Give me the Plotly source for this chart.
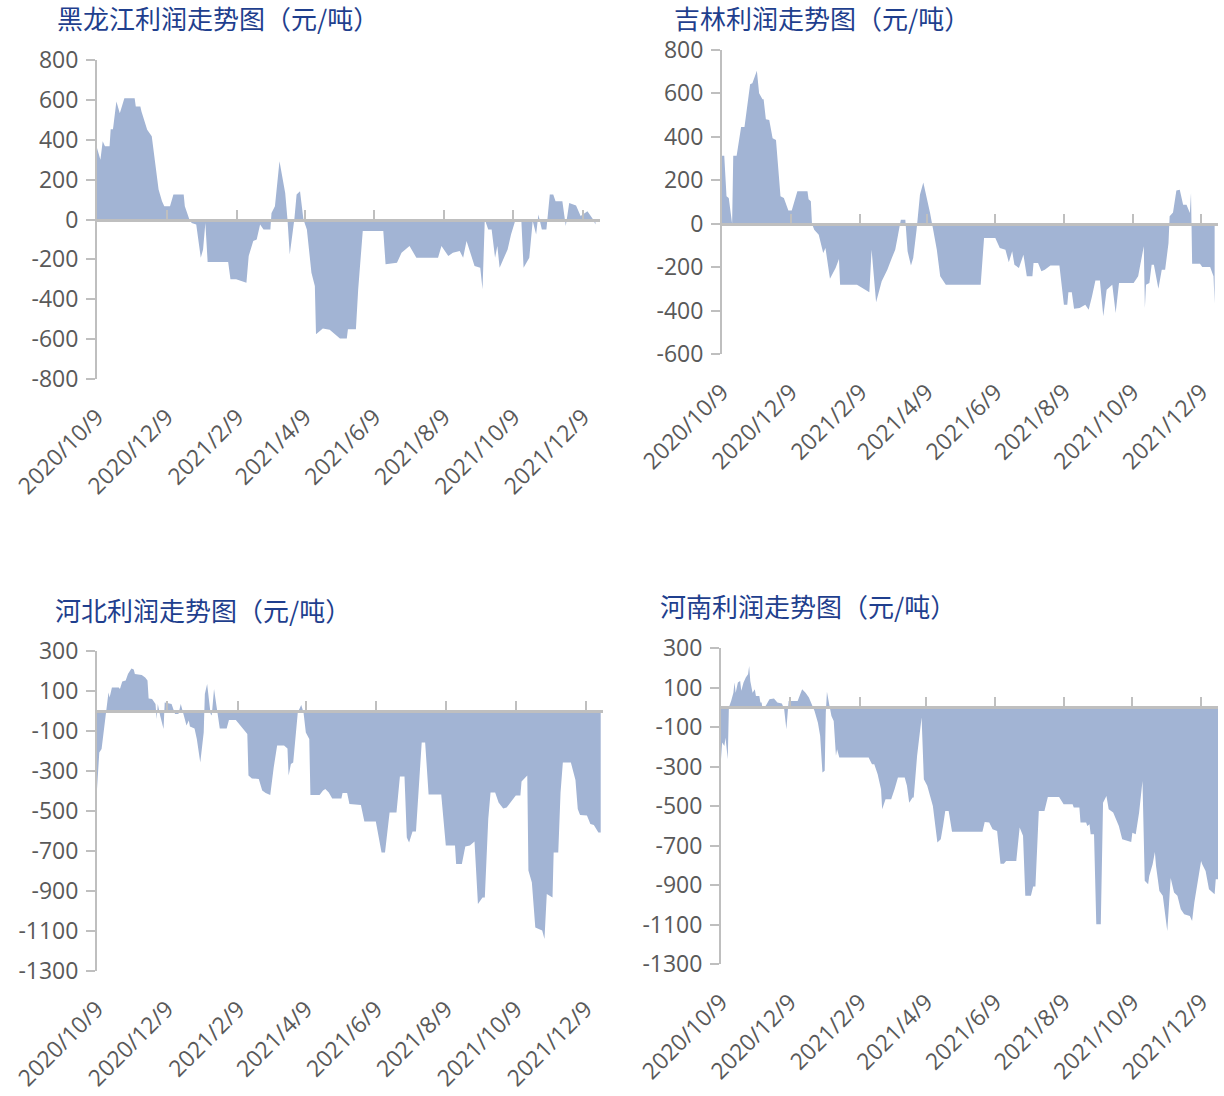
import pandas as pd
import plotly.graph_objects as go

START = "2020-10-09"
END = "2021-12-24"

tick_dates = ["2020-10-09", "2020-12-09", "2021-02-09", "2021-04-09",
              "2021-06-09", "2021-08-09", "2021-10-09", "2021-12-09"]
tick_labels = ["2020/10/9", "2020/12/9", "2021/2/9", "2021/4/9",
               "2021/6/9", "2021/8/9", "2021/10/9", "2021/12/9"]

titles = ["黑龙江利润走势图（元/吨）", "吉林利润走势图（元/吨）",
          "河北利润走势图（元/吨）", "河南利润走势图（元/吨）"]

# days since 2020-10-09, profit (yuan/ton)
hlj_days = [0, 3, 5, 7, 11, 12, 14, 17, 20, 24, 33, 34, 38, 39, 44, 48, 54, 57, 59, 64, 67, 76, 77, 81,
            83, 87, 91, 93, 95, 97, 115, 117, 122, 131, 133, 137, 140, 143, 146, 152, 153, 156, 160, 165,
            167, 169, 173, 175, 178, 181, 184, 188, 191, 192, 198, 204, 213, 219, 220, 227, 229, 233, 251,
            253, 263, 267, 274, 280, 299, 302, 308, 312, 318, 321, 324, 327, 331, 336, 338, 340, 343, 346,
            349, 351, 353, 360, 363, 367, 372, 374, 379, 382, 385, 387, 390, 394, 397, 400, 402, 408, 410,
            411, 414, 420, 424, 430, 435, 437]
hlj_vals = [358, 300, 392, 367, 367, 453, 453, 592, 533, 608, 608, 567, 567, 542, 450, 417, 150, 92, 67, 67,
            125, 125, 67, 0, -17, -25, -192, -150, -17, -213, -213, -300, -300, -317, -183, -108, -100, -25,
            -50, -50, 33, 67, 292, 133, 0, -175, 0, 125, 142, 0, -50, -267, -333, -575, -547, -553, -597,
            -597, -550, -550, -350, -58, -58, -225, -217, -167, -133, -192, -192, -133, -183, -167, -158,
            -192, -108, -158, -233, -242, -350, 0, -50, -50, -192, -133, -242, -150, -75, 0, 0, -242, -192,
            -8, -75, 25, -50, -50, 125, 125, 92, 92, 0, -33, 83, 70, 17, 42, 0, -25]

jl_days = [0, 2, 4, 6, 9, 10, 13, 17, 20, 25, 27, 31, 33, 36, 37, 39, 42, 45, 48, 52, 55, 59, 62, 67, 76,
           77, 79, 80, 82, 86, 90, 92, 96, 101, 104, 105, 120, 131, 133, 137, 142, 147, 151, 154, 156, 159,
           163, 165, 168, 170, 173, 176, 179, 182, 185, 188, 191, 194, 199, 230, 233, 243, 247, 252, 255,
           258, 260, 264, 268, 271, 276, 277, 281, 284, 287, 292, 300, 304, 307, 308, 311, 313, 318, 323,
           326, 329, 332, 336, 339, 342, 347, 350, 353, 366, 370, 375, 376, 377, 380, 382, 384, 388, 391,
           394, 397, 398, 401, 404, 407, 410, 413, 416, 417, 418, 425, 427, 434, 437, 438]
jl_vals = [313, 313, 126, 118, 0, 313, 313, 445, 445, 642, 647, 705, 601, 573, 573, 481, 478, 394, 386, 126,
           118, 61, 61, 149, 149, 113, 103, 0, -28, -51, -135, -112, -254, -204, -162, -281, -281, -316,
           -120, -362, -265, -212, -158, -120, -66, 18, 18, -127, -193, -158, -28, 133, 190, 126, 49, -35,
           -120, -242, -281, -281, -66, -66, -112, -120, -178, -127, -189, -204, -143, -242, -242, -181,
           -181, -219, -212, -193, -193, -373, -373, -316, -316, -392, -388, -373, -396, -334, -261, -261,
           -426, -304, -281, -411, -273, -273, -242, -104, -388, -281, -273, -189, -189, -300, -212, -212,
           -89, 34, 52, 153, 156, 87, 87, 49, 141, -184, -184, -199, -199, -242, -368]

hb_days = [0, 2, 4, 7, 8, 10, 11, 13, 19, 20, 22, 25, 27, 30, 32, 33, 39, 42, 44, 45, 48, 51, 52, 53, 55,
           58, 59, 65, 68, 71, 73, 75, 78, 80, 81, 85, 87, 90, 93, 94, 96, 99, 100, 102, 105, 107, 113, 115,
           121, 125, 131, 132, 135, 141, 144, 147, 151, 154, 157, 163, 166, 167, 169, 171, 175, 178, 180,
           182, 185, 186, 194, 197, 199, 202, 205, 213, 214, 218, 220, 230, 233, 243, 248, 251, 255, 261,
           264, 268, 270, 272, 275, 278, 283, 286, 289, 300, 304, 312, 313, 318, 321, 325, 329, 332, 336,
           338, 341, 343, 347, 350, 354, 357, 365, 369, 370, 375, 376, 379, 382, 388, 390, 392, 397, 398,
           402, 404, 406, 413, 417, 419, 421, 427, 430, 433, 437, 439]
hb_vals = [-390, -207, -190, -57, 0, 93, 68, 118, 118, 110, 147, 152, 185, 213, 207, 185, 180, 168, 152, 63,
           60, 35, -40, 35, -23, -90, 43, 35, -15, -15, 35, -7, -73, -48, -77, -87, -140, -257, -107, 85,
           135, -15, -23, 110, 0, -87, -87, -45, -45, -73, -115, -323, -337, -340, -398, -410, -420, -282,
           -173, -173, -187, -323, -265, -257, -7, 30, -7, -107, -140, -420, -420, -398, -390, -407, -437,
           -437, -410, -410, -465, -470, -553, -553, -707, -707, -507, -507, -327, -327, -632, -657, -603,
           -603, -157, -157, -418, -418, -673, -673, -765, -765, -677, -673, -653, -965, -932, -932, -540,
           -407, -407, -457, -487, -483, -423, -423, -353, -323, -798, -857, -1082, -1098, -1140, -915,
           -932, -707, -707, -407, -257, -257, -345, -490, -520, -523, -565, -570, -607, -607]

hn_days = [0, 1, 3, 4, 6, 7, 9, 11, 12, 13, 15, 17, 18, 20, 22, 24, 25, 26, 28, 30, 31, 34, 35, 36, 37, 40,
           43, 47, 50, 54, 56, 58, 60, 68, 72, 75, 78, 80, 83, 86, 88, 90, 92, 93, 94, 96, 98, 100, 102,
           103, 105, 131, 134, 136, 139, 142, 143, 146, 151, 154, 157, 163, 165, 167, 170, 171, 174, 178,
           180, 183, 188, 192, 195, 197, 199, 202, 205, 232, 234, 238, 241, 245, 248, 251, 253, 262, 265,
           268, 270, 275, 277, 279, 282, 287, 290, 300, 304, 312, 313, 318, 319, 324, 325, 327, 328, 331,
           333, 337, 339, 342, 344, 348, 350, 353, 356, 364, 365, 368, 371, 374, 376, 379, 380, 383, 385,
           386, 389, 392, 396, 399, 402, 405, 408, 411, 416, 418, 420, 423, 426, 427, 430, 433, 438, 439,
           441]
hn_vals = [-263, -179, -196, -154, -263, 0, 32, 74, 125, 74, 125, 133, 83, 125, 150, 167, 209, 133, 74, 91,
           57, 57, 24, 24, -10, 10, 41, 44, 24, 19, -7, -111, 32, 32, 91, 74, 49, 24, -19, -78, -145, -331,
           -322, -27, 78, 15, -44, -69, -246, -213, -255, -255, -289, -289, -339, -415, -517, -466, -466,
           -415, -356, -356, -398, -483, -457, -457, -246, -52, -365, -398, -500, -685, -668, -601, -525,
           -525, -631, -631, -581, -584, -618, -626, -792, -792, -778, -778, -609, -651, -955, -955, -908,
           -908, -525, -525, -454, -454, -491, -491, -508, -508, -584, -584, -601, -592, -643, -643, -1099,
           -1099, -483, -449, -517, -533, -559, -601, -668, -682, -635, -643, -533, -373, -879, -896, -854,
           -795, -733, -804, -930, -955, -1133, -864, -938, -955, -1023, -1048, -1057, -1082, -989, -888,
           -778, -795, -829, -922, -947, -871, -871]

series_days = [hlj_days, jl_days, hb_days, hn_days]
series_vals = [hlj_vals, jl_vals, hb_vals, hn_vals]

y_ranges = [[-800, 800], [-600, 800], [-1300, 300], [-1300, 300]]
y_ticks = [list(range(-800, 801, 200)), list(range(-600, 801, 200)),
           list(range(-1300, 301, 200)), list(range(-1300, 301, 200))]

W, H = 1224, 1096
# plot-area pixel boxes: left, right, top, bottom
boxes = [(97, 600, 60, 379), (722, 1218, 50, 354), (97, 603, 651, 971), (721, 1218, 648, 964)]
title_pos = [(55, 18), (672, 17), (53, 609), (658, 605)]

AREA = "#A2B4D4"
GRAY = "#BFBFBF"
TXT = "#595959"
TITLE = "#1F3F8E"
TICKFONT = dict(family="Open Sans, Noto Sans, sans-serif", size=23, color=TXT)

fig = go.Figure()
layout = dict(width=W, height=H, margin=dict(l=0, r=0, t=0, b=0, autoexpand=False),
              paper_bgcolor="white", plot_bgcolor="white", showlegend=False)
annotations = []

start = pd.Timestamp(START)
for i in range(4):
    n = i + 1
    xs = start + pd.to_timedelta(series_days[i], unit="D")
    xa = "x" if n == 1 else f"x{n}"
    ya = "y" if n == 1 else f"y{n}"
    fig.add_trace(go.Scatter(x=xs, y=series_vals[i], xaxis=xa, yaxis=ya, mode="lines",
                             line=dict(width=0, color=AREA), fill="tozeroy", fillcolor=AREA,
                             hoverinfo="x+y"))
    l, r, t, b = boxes[i]
    xdom = [l / W, r / W]
    ydom = [1 - b / H, 1 - t / H]
    y0, y1 = y_ranges[i]
    zero_pos = ydom[0] + (0 - y0) / (y1 - y0) * (ydom[1] - ydom[0])

    layout[f"xaxis{n}"] = dict(domain=xdom, anchor=ya, range=[START, END], type="date",
                               showgrid=False, zeroline=False, showline=False, ticks="",
                               tickvals=tick_dates, ticktext=tick_labels, tickangle=-45,
                               tickfont=TICKFONT, ticklabelstandoff=19, automargin=False)
    layout[f"yaxis{n}"] = dict(domain=ydom, anchor=xa, range=y_ranges[i], tickvals=y_ticks[i],
                               ticktext=[str(v) for v in y_ticks[i]],
                               showgrid=False, zeroline=False, showline=True, linecolor=GRAY,
                               linewidth=2, ticks="outside", ticklen=9, tickwidth=2, tickcolor=GRAY,
                               tickfont=TICKFONT, ticklabelstandoff=3, automargin=False)
    # zero-line axis with upward tick marks
    m = n + 4
    layout[f"xaxis{m}"] = dict(overlaying=xa, anchor="free", position=zero_pos, side="bottom",
                               range=[START, END], type="date", showgrid=False, zeroline=False,
                               showline=True, linecolor=GRAY, linewidth=3, ticks="inside", ticklen=9,
                               tickwidth=2, tickcolor=GRAY, tickvals=tick_dates, showticklabels=False,
                               layer="above traces", automargin=False)
    fig.add_trace(go.Scatter(x=[START], y=[0], xaxis=f"x{m}", yaxis=ya, mode="markers",
                             marker=dict(opacity=0), hoverinfo="skip"))
    tx, ty = title_pos[i]
    annotations.append(dict(text=titles[i], xref="paper", yref="paper", x=tx / W, y=1 - ty / H,
                            xanchor="left", yanchor="middle", showarrow=False,
                            font=dict(family="Noto Sans CJK SC", size=26, color=TITLE)))

layout["annotations"] = annotations
fig.update_layout(**layout)
fig.write_html("out.html", config={"displayModeBar": False},
               post_script="document.body.style.margin='0px';document.body.style.padding='0px';")
